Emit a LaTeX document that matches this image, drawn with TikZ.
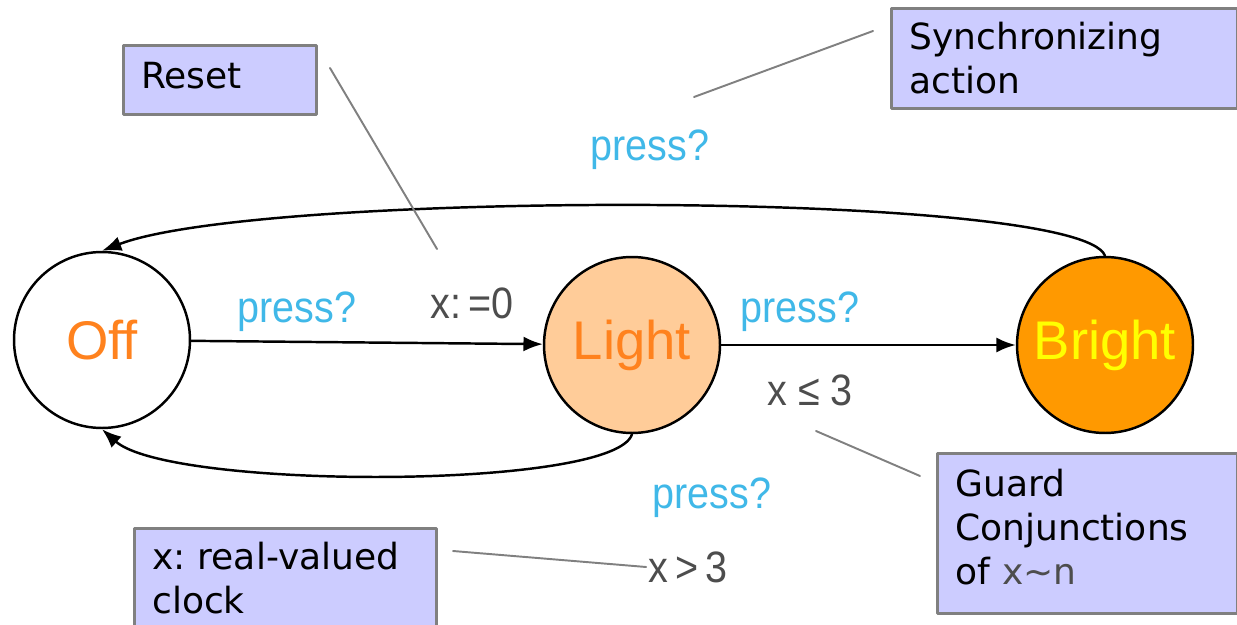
\documentclass[tikz,border=0pt]{standalone}
\usepackage{fontspec}
\setmainfont{DejaVu Sans}
\newfontfamily\narrowsans[FakeStretch=0.9]{Liberation Sans}
\newfontfamily\statesans{Liberation Sans}
\usetikzlibrary{arrows.meta}
\definecolor{offorange}{RGB}{255,130,30}
\definecolor{lightfill}{RGB}{255,204,153}
\definecolor{brightfill}{RGB}{255,153,0}
\definecolor{brightyellow}{RGB}{255,255,0}
\definecolor{actblue}{RGB}{64,184,232}
\definecolor{notefill}{RGB}{204,204,255}
\definecolor{notedraw}{RGB}{128,128,128}
\definecolor{clockgray}{RGB}{77,77,77}
\frenchspacing
\tikzset{
  state/.style={circle,draw=black,line width=1.4pt,minimum size=3.52cm,inner sep=0pt,font=\statesans\fontsize{31}{36}\selectfont},
  trans/.style={-{Latex[length=11pt,width=8.5pt]},line width=1.4pt},
  act/.style={font=\narrowsans\fontsize{25}{29}\selectfont,text=actblue,inner sep=1pt},
  guardlbl/.style={font=\narrowsans\fontsize{25}{29}\selectfont,text=clockgray,inner sep=1pt},
  note/.style={draw=notedraw,fill=notefill,line width=1.5pt,anchor=north west,align=left,inner xsep=0.36cm,inner ysep=4pt,font=\fontsize{20.5}{25}\selectfont},
  pointer/.style={draw=notedraw,line width=1.1pt}
}
\begin{document}
\begin{tikzpicture}[x=0.02cm,y=-0.02cm,line cap=round,line join=round]
\useasboundingbox (0,0) rectangle (1237,625);
\node[state,text=offorange] (off) at (102,340) {Off};
\node[state,fill=lightfill,text=offorange] (light) at (632,345) {Light};
\node[state,fill=brightfill,text=brightyellow] (bright) at (1105,345) {Bright};
\draw[trans] (off) -- (light);
\draw[trans] (light) -- (bright);
\draw[trans] (bright.north) .. controls (1080,190) and (260,190) .. (off.north);
\draw[trans] (light.south) .. controls (615,490) and (170,490) .. (off.south);
\node[act] (pressup) at (650,150) {press?};
\node[act] (pressol) at (297,312) {press?};
\node[guardlbl] (reset) at (472,303) {x:\,=0};
\node[act] (presslb) at (800,312) {press?};
\node[guardlbl] (le3) at (810,390) {x ≤ 3};
\node[act] (pressdn) at (712,498) {press?};
\node[guardlbl] (gt3) at (688,567) {x\,>\,3};
\node[note,text width=3.14cm,minimum height=1.38cm,text depth=5pt] (resetnote) at (122,44) {Reset};
\node[note,text width=6.2cm,minimum height=2cm] (syncnote) at (890,7) {Synchronizing\\action};
\node[note,text width=5.28cm,minimum height=3.2cm,text height=8pt] (guardnote) at (936,452) {Guard\\Conjunctions\\of {\color{clockgray}x\textasciitilde n}};
\node[note,text width=5.32cm,minimum height=2cm] (clocknote) at (133,527) {x: real-valued\\clock};
\coordinate (resetA) at (330,68);
\coordinate (resetB) at (437,249);
\coordinate (syncA) at (873,31);
\coordinate (syncB) at (694,97);
\coordinate (guardA) at (816,431);
\coordinate (guardB) at (920,476);
\coordinate (clockA) at (453,551);
\draw[pointer] (resetA) -- (resetB);
\draw[pointer] (syncA) -- (syncB);
\draw[pointer] (guardA) -- (guardB);
\draw[pointer] (clockA) -- (gt3.west);
\end{tikzpicture}
\end{document}
